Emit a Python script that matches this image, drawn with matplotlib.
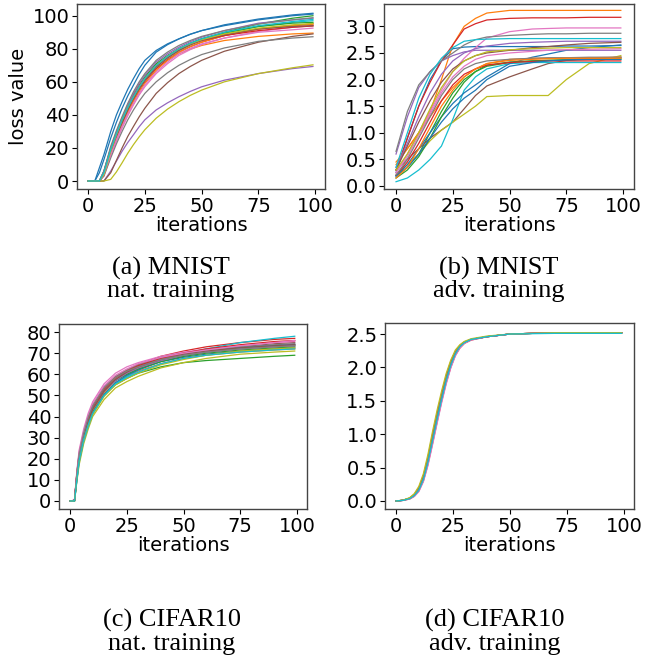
import matplotlib
matplotlib.use("Agg")
import matplotlib.pyplot as plt

# ---------------- data ----------------
iters_a = [0, 3, 5, 7, 10, 12.5, 15, 17.5, 20, 22.5, 25, 30, 35, 40, 45, 50, 60, 75, 90, 99]
mnist_nat = [
    [0, 0, 8, 16, 30, 40, 48, 55.5, 62, 68, 73, 79, 83, 86, 88.8, 91, 94.5, 98, 100.5, 101.5],
    [0, 0, 0, 5, 18, 27.5, 36, 43.5, 50, 56, 61, 68, 73, 77, 79.8, 82, 85, 87.5, 89, 89.5],
    [0, 0, 0, 6, 20, 29.5, 38, 45.5, 52, 58, 63, 71, 76, 80, 83.3, 86, 90, 95, 98.5, 100],
    [0, 0, 0, 4, 17, 26.5, 35, 42.5, 49, 55, 60, 68, 73.5, 78, 81.3, 84, 88, 92, 94, 95],
    [0, 0, 0, 0, 6, 12, 18, 23.3, 28, 32.8, 37, 43, 47.3, 51, 54.2, 57, 61, 65, 68, 69.3],
    [0, 0, 0, 0, 5, 12.5, 20, 27, 33, 38.8, 44, 53, 59.5, 65, 69.3, 73, 78.5, 84, 87.5, 89],
    [0, 0, 0, 3, 15, 24, 32, 39.5, 46, 52, 57, 65, 71, 76, 79.5, 82.5, 86.5, 90.5, 93, 94],
    [0, 0, 0, 3, 14, 22.5, 30, 37, 43, 48.3, 53, 60, 65.5, 70, 73.5, 76.5, 80.5, 84.5, 86.5, 87.3],
    [0, 0, 0, 0, 1, 5.5, 11, 16.8, 22, 26.7, 31, 38, 43.5, 48, 51.8, 55, 60, 65, 68.5, 70.3],
    [0, 0, 0, 5, 18, 27.5, 36, 43.5, 50, 56, 61, 69, 74.5, 79, 82.5, 85.5, 89.5, 93.5, 96, 97],
    [0, 0, 5, 13, 26, 35.5, 44, 51.5, 58, 64.5, 70, 78, 82.5, 86, 88.8, 91, 94, 97.5, 100, 101],
    [0, 0, 0, 4, 17, 26, 34, 41.5, 48, 54, 59, 67, 73, 78, 81.3, 84, 88, 92, 94, 95],
    [0, 0, 0, 5, 19, 28.5, 37, 44.5, 51, 57, 62, 70, 75.5, 80, 83.3, 86, 89.5, 93.5, 95.5, 96],
    [0, 0, 0, 5, 18, 28, 37, 45, 52, 57.5, 62, 70, 75.5, 80, 82.8, 85, 88, 91, 93, 93.8],
    [0, 0, 0, 6, 20, 29.5, 38, 46, 53, 59, 64, 72, 77, 81, 84.3, 87, 91, 95.5, 97.5, 98.5],
    [0, 0, 0, 4, 17, 26.5, 35, 43, 50, 56, 61, 69, 74.5, 79, 82.3, 85, 88.5, 92, 93.5, 94],
    [0, 0, 0, 4, 16, 25, 33, 40.5, 47, 53, 58, 66, 72, 77, 80.3, 83, 86.5, 90, 91.5, 92.5],
    [0, 0, 0, 6, 21, 30.5, 39, 47, 54, 60, 65, 73, 78, 82, 85, 87.5, 91, 95, 97.5, 98.8],
    [0, 0, 0, 4, 18, 28, 37, 44.5, 51, 57, 62, 70, 75.5, 80, 83, 85.5, 89, 92.5, 94.5, 95.3],
    [0, 0, 0, 5, 19, 28.5, 37, 44.5, 51, 57, 62, 70, 75.5, 80, 83.3, 86, 90, 94, 96.5, 97.8],
]

iters_b = [0, 5, 10, 15, 20, 25, 30, 35, 40, 50, 60, 67, 75, 85, 99]
mnist_adv = [
    [0.25, 0.9, 1.5, 2.0, 2.35, 2.58, 2.61, 2.62, 2.62, 2.62, 2.62, 2.62, 2.63, 2.63, 2.64],
    [0.4, 0.7, 1.0, 1.4, 2.0, 2.65, 3.0, 3.15, 3.25, 3.3, 3.3, 3.3, 3.3, 3.3, 3.3],
    [0.2, 0.35, 0.6, 1.0, 1.4, 1.75, 2.0, 2.15, 2.25, 2.32, 2.35, 2.36, 2.37, 2.39, 2.4],
    [0.3, 0.9, 1.5, 1.95, 2.35, 2.65, 2.95, 3.05, 3.12, 3.15, 3.16, 3.16, 3.16, 3.17, 3.17],
    [0.6, 1.3, 1.85, 2.15, 2.35, 2.45, 2.52, 2.55, 2.55, 2.55, 2.55, 2.55, 2.55, 2.55, 2.55],
    [0.3, 0.5, 0.7, 0.9, 1.05, 1.2, 1.45, 1.7, 1.88, 2.05, 2.2, 2.3, 2.36, 2.4, 2.42],
    [0.25, 0.6, 1.0, 1.4, 1.8, 2.15, 2.4, 2.6, 2.78, 2.9, 2.95, 2.96, 2.97, 2.97, 2.97],
    [0.65, 1.4, 1.9, 2.15, 2.35, 2.5, 2.65, 2.75, 2.8, 2.83, 2.85, 2.86, 2.86, 2.87, 2.87],
    [0.2, 0.4, 0.6, 0.85, 1.05, 1.2, 1.35, 1.5, 1.68, 1.7, 1.7, 1.7, 2.0, 2.3, 2.45],
    [0.08, 0.15, 0.3, 0.5, 0.75, 1.25, 1.8, 2.05, 2.2, 2.3, 2.32, 2.32, 2.32, 2.32, 2.32],
    [0.2, 0.4, 0.7, 1.0, 1.3, 1.55, 1.75, 1.9, 2.05, 2.3, 2.42, 2.48, 2.55, 2.6, 2.65],
    [0.45, 0.7, 1.0, 1.3, 1.6, 1.85, 2.05, 2.2, 2.3, 2.38, 2.4, 2.4, 2.41, 2.41, 2.42],
    [0.15, 0.3, 0.55, 0.9, 1.3, 1.65, 1.95, 2.15, 2.27, 2.33, 2.35, 2.36, 2.37, 2.38, 2.38],
    [0.2, 0.45, 0.8, 1.2, 1.6, 1.9, 2.1, 2.2, 2.27, 2.32, 2.34, 2.35, 2.35, 2.35, 2.35],
    [0.35, 0.8, 1.3, 1.75, 2.1, 2.35, 2.5, 2.58, 2.63, 2.68, 2.7, 2.71, 2.72, 2.72, 2.72],
    [0.3, 0.75, 1.2, 1.6, 1.95, 2.2, 2.35, 2.45, 2.5, 2.55, 2.6, 2.62, 2.65, 2.68, 2.7],
    [0.25, 0.55, 0.95, 1.35, 1.75, 2.05, 2.25, 2.38, 2.45, 2.5, 2.53, 2.55, 2.56, 2.57, 2.58],
    [0.2, 0.5, 0.9, 1.3, 1.7, 2.0, 2.2, 2.3, 2.35, 2.38, 2.4, 2.41, 2.41, 2.42, 2.42],
    [0.3, 0.6, 1.0, 1.45, 1.85, 2.15, 2.35, 2.45, 2.52, 2.56, 2.58, 2.59, 2.6, 2.6, 2.6],
    [0.35, 1.0, 1.65, 2.1, 2.4, 2.6, 2.72, 2.75, 2.76, 2.77, 2.77, 2.77, 2.77, 2.77, 2.77],
    [0.18, 0.35, 0.6, 0.9, 1.2, 1.45, 1.65, 1.8, 2.0, 2.25, 2.32, 2.35, 2.37, 2.38, 2.38],
    [0.15, 0.35, 0.7, 1.1, 1.5, 1.8, 2.05, 2.2, 2.3, 2.36, 2.38, 2.39, 2.4, 2.4, 2.4],
]

iters_c = [0, 1, 2, 3, 4, 6, 8, 10, 15, 20, 25, 30, 40, 50, 60, 75, 90, 99]
cifar_nat = [
    [0, 0, 0.5, 12, 21, 31, 38, 43.5, 52, 57, 60, 62.5, 66, 68, 69.5, 71, 72, 72.5],
    [0, 0, 0, 11, 20, 30, 37, 42.5, 51, 56, 59, 61.5, 65, 67.5, 69, 70.5, 71.5, 72],
    [0, 0, 0, 11, 20, 30, 37, 42, 50, 55, 58, 60.5, 63.5, 65.5, 66.5, 67.5, 68.5, 69],
    [0, 0, 0.5, 13, 22, 32, 39, 44.5, 53, 58.5, 62, 64.5, 68.5, 71, 73, 75, 76.5, 77],
    [0, 0, 0.5, 12, 21, 31, 38.5, 44, 52.5, 58, 61, 63.5, 67, 69.5, 71, 72.5, 73.5, 74],
    [0, 0, 0.5, 12, 21.5, 31.5, 39, 44.5, 53, 58.5, 61.5, 64, 67.5, 70, 71.5, 73, 74.5, 75],
    [0, 0, 1, 14, 24, 34, 41.5, 47, 55.5, 60.5, 63.5, 65.5, 68.5, 70.5, 72, 73.5, 75, 75.5],
    [0, 0, 0.5, 13, 22.5, 32.5, 40, 45.5, 54, 59, 62, 64.5, 68, 70, 71.5, 73, 74, 74.5],
    [0, 0, 0, 9, 17, 27, 34, 40, 48, 53.5, 56.5, 59, 63, 65.5, 67.5, 69.5, 70.5, 71],
    [0, 0, 0, 9.5, 18, 28, 35, 41, 50, 55.5, 59, 62, 66.5, 69.5, 72, 75, 77, 78],
    [0, 0, 0, 10, 19, 29, 36, 41.5, 50.5, 56, 59.5, 62, 66, 68.5, 70.5, 72.5, 73.5, 74],
    [0, 0, 0.5, 12, 21, 31, 38, 43.5, 52, 57.5, 60.5, 63, 66.5, 69, 70.5, 72, 73, 73.5],
    [0, 0, 0.5, 11.5, 20.5, 30.5, 38, 43.5, 52, 57, 60, 62.5, 66, 68.5, 70, 71.5, 72.5, 73],
    [0, 0, 0.5, 12.5, 21.5, 31.5, 39, 44.5, 53, 58.5, 61.5, 64, 67.5, 70, 72, 74, 75.5, 76],
    [0, 0, 0.5, 12, 21, 31, 38, 43.5, 52, 57, 60.5, 63, 66.5, 69, 70.5, 72, 73, 73.5],
    [0, 0, 0, 11.5, 20.5, 30.5, 38, 43.5, 52, 57.5, 61, 63.5, 67, 69.5, 71, 72.5, 73.5, 74],
    [0, 0, 0.5, 13, 23, 33, 40.5, 46, 54.5, 59.5, 62.5, 65, 68, 70, 71.5, 73.5, 75, 76],
    [0, 0, 0.5, 12.5, 22, 32, 39.5, 45, 53.5, 58.5, 61.5, 63.5, 67, 69, 70.5, 72, 73, 73.5],
    [0, 0, 0, 10, 18.5, 28.5, 35.5, 41, 49.5, 55, 58, 60.5, 64.5, 67, 69, 71, 72, 72.5],
    [0, 0, 0, 10, 19, 29, 36, 41.5, 50, 55.5, 58.5, 61, 65, 67.5, 69, 70.5, 71.5, 72],
]

iters_d = [0, 3, 6, 8, 10, 12, 14, 16, 18, 20, 22, 24, 26, 28, 30, 33, 40, 50, 70, 99]
cifar_adv = [
    [0, 0.01, 0.04, 0.09, 0.18, 0.35, 0.62, 0.95, 1.27, 1.57, 1.84, 2.06, 2.22, 2.32, 2.38, 2.42, 2.46, 2.5, 2.52, 2.52],
    [0, 0.011, 0.045, 0.1, 0.2, 0.38, 0.66, 1.0, 1.32, 1.61, 1.88, 2.09, 2.24, 2.33, 2.38, 2.42, 2.46, 2.5, 2.52, 2.52],
    [0, 0.01, 0.04, 0.09, 0.17, 0.34, 0.6, 0.93, 1.25, 1.55, 1.82, 2.05, 2.21, 2.31, 2.37, 2.42, 2.46, 2.5, 2.52, 2.52],
    [0, 0.008, 0.03, 0.07, 0.15, 0.3, 0.55, 0.86, 1.18, 1.49, 1.77, 2.0, 2.18, 2.29, 2.36, 2.41, 2.46, 2.5, 2.52, 2.52],
    [0, 0.01, 0.04, 0.085, 0.17, 0.33, 0.6, 0.92, 1.24, 1.54, 1.82, 2.04, 2.21, 2.31, 2.37, 2.42, 2.46, 2.5, 2.52, 2.52],
    [0, 0.011, 0.042, 0.095, 0.19, 0.37, 0.64, 0.98, 1.3, 1.59, 1.86, 2.08, 2.23, 2.32, 2.38, 2.42, 2.46, 2.5, 2.52, 2.52],
    [0, 0.008, 0.03, 0.068, 0.14, 0.29, 0.53, 0.84, 1.16, 1.47, 1.75, 1.99, 2.17, 2.29, 2.36, 2.41, 2.46, 2.5, 2.52, 2.52],
    [0, 0.01, 0.04, 0.09, 0.18, 0.35, 0.62, 0.95, 1.27, 1.57, 1.84, 2.06, 2.22, 2.32, 2.38, 2.42, 2.46, 2.5, 2.52, 2.52],
    [0, 0.012, 0.05, 0.11, 0.22, 0.41, 0.7, 1.04, 1.36, 1.65, 1.91, 2.11, 2.26, 2.34, 2.39, 2.43, 2.47, 2.5, 2.52, 2.52],
    [0, 0.009, 0.035, 0.08, 0.16, 0.32, 0.58, 0.9, 1.22, 1.52, 1.8, 2.03, 2.2, 2.31, 2.37, 2.42, 2.46, 2.5, 2.51, 2.51],
]

x_ticks = [0, 25, 50, 75, 100]
y_ticks_a = [0, 20, 40, 60, 80, 100]
y_ticks_b = [0.0, 0.5, 1.0, 1.5, 2.0, 2.5, 3.0]
y_ticks_c = [0, 10, 20, 30, 40, 50, 60, 70, 80]
y_ticks_d = [0.0, 0.5, 1.0, 1.5, 2.0, 2.5]

captions = [
    ("(a) MNIST", "nat. training"),
    ("(b) MNIST", "adv. training"),
    ("(c) CIFAR10", "nat. training"),
    ("(d) CIFAR10", "adv. training"),
]

# ---------------- figure ----------------
W, H = 656, 664
fig = plt.figure(figsize=(W / 100, H / 100), dpi=100)
plt.rcParams['font.family'] = ['DejaVu Sans']


def px_axes(l, t, r, b):
    return fig.add_axes([l / W, 1 - b / H, (r - l) / W, (b - t) / H])


panels = [
    dict(box=(77, 4, 325, 189), x=iters_a, ys=mnist_nat, yt=y_ticks_a,
         xlim=(-4.85, 104.3), ylim=(-4.84, 107.1), ylabel="loss value", fmt="{:d}"),
    dict(box=(384, 4, 634, 189), x=iters_b, ys=mnist_adv, yt=y_ticks_b,
         xlim=(-5.3, 104.8), ylim=(-0.057, 3.42), ylabel=None, fmt="{:.1f}"),
    dict(box=(59, 324, 307, 509), x=iters_c, ys=cifar_nat, yt=y_ticks_c,
         xlim=(-4.85, 104.4), ylim=(-3.8, 83.8), ylabel=None, fmt="{:d}"),
    dict(box=(385, 323, 634, 509), x=iters_d, ys=cifar_adv, yt=y_ticks_d,
         xlim=(-4.85, 104.4), ylim=(-0.12, 2.665), ylabel=None, fmt="{:.1f}"),
]

for p in panels:
    ax = px_axes(*p["box"])
    for ys in p["ys"]:
        ax.plot(p["x"], ys, lw=0.9)
    ax.set_xlim(*p["xlim"])
    ax.set_ylim(*p["ylim"])
    ax.set_xticks(x_ticks)
    ax.set_yticks(p["yt"])
    ax.set_yticklabels([p["fmt"].format(v) for v in p["yt"]])
    ax.tick_params(labelsize=14, length=3.5, width=0.8, pad=2)
    ax.set_xlabel("iterations", fontsize=14, labelpad=0)
    if p["ylabel"]:
        ax.set_ylabel(p["ylabel"], fontsize=14, labelpad=3)
    for s in ax.spines.values():
        s.set_color("#444444")
        s.set_linewidth(1.0)

serif = ['Liberation Serif', 'DejaVu Serif']
cap_pos = [(171, 275, 297), (499, 275, 297), (172, 627, 650), (495, 627, 650)]
for (l1, l2), (cx, y1, y2) in zip(captions, cap_pos):
    fig.text(cx / W, 1 - y1 / H, l1, ha='center', va='baseline',
             fontsize=19, family=serif)
    fig.text(cx / W, 1 - y2 / H, l2, ha='center', va='baseline',
             fontsize=19, family=serif)

fig.savefig("out.png", dpi=100)
